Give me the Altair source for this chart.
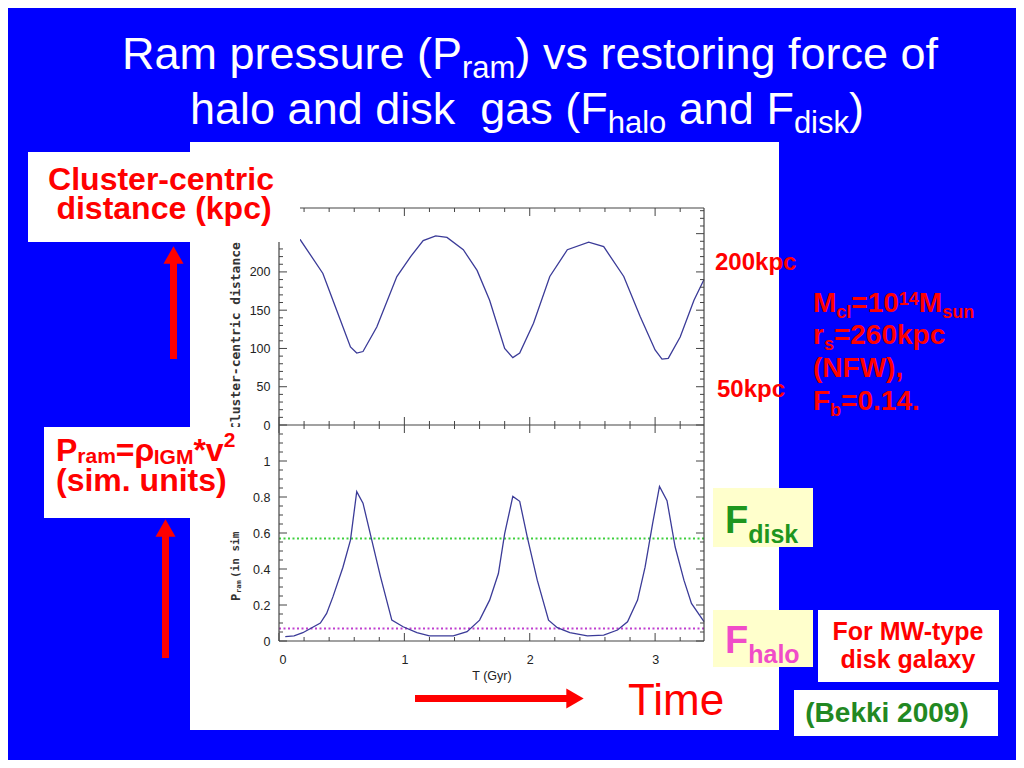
import altair as alt
import pandas as pd

# ------------------------------------------------------------------ data
# top panel: cluster-centric distance (kpc) vs T (Gyr)
t_dist = [0.05, 0.10, 0.17, 0.35, 0.46, 0.57, 0.62, 0.67, 0.78, 0.94,
          1.05, 1.15, 1.25, 1.34, 1.47, 1.58, 1.68, 1.80, 1.865, 1.92,
          2.03, 2.16, 2.30, 2.47, 2.59, 2.75, 2.88, 3.00, 3.055, 3.105,
          3.20, 3.31, 3.39]
dist_kpc = [249, 247, 242, 198, 150, 102, 94, 96, 128, 194,
            220, 241, 247, 245, 229, 202, 163, 100, 88, 94,
            133, 194, 229, 239, 233, 194, 142, 98, 86, 87,
            115, 163, 190]

# bottom panel: P_ram (sim. units) vs T (Gyr)
t_pram = [0.05, 0.12, 0.19, 0.33, 0.38, 0.43, 0.51, 0.57, 0.62, 0.67,
          0.74, 0.81, 0.90, 0.99, 1.10, 1.20, 1.39, 1.50, 1.60, 1.68,
          1.75, 1.80, 1.865, 1.92, 1.98, 2.06, 2.15, 2.22, 2.32, 2.46,
          2.59, 2.70, 2.78, 2.86, 2.92, 2.98, 3.035, 3.095, 3.16, 3.23,
          3.29, 3.39]
p_ram = [0.024, 0.028, 0.046, 0.10, 0.153, 0.245, 0.41, 0.56, 0.83, 0.766,
         0.56, 0.356, 0.116, 0.079, 0.046, 0.028, 0.028, 0.052, 0.116, 0.227,
         0.375, 0.597, 0.803, 0.776, 0.578, 0.338, 0.116, 0.074, 0.046, 0.028,
         0.033, 0.061, 0.107, 0.227, 0.41, 0.652, 0.859, 0.78, 0.522, 0.338,
         0.209, 0.107]

f_disk_level = [0.57]
f_halo_level = [0.07]

# axis ticks / labels
x_labels = [0, 1, 2, 3]
x_major = [0, 1, 2, 3]
x_minor = [0.2, 0.4, 0.6, 0.8, 1.2, 1.4, 1.6, 1.8, 2.2, 2.4, 2.6, 2.8, 3.2]
dist_labels = [0, 50, 100, 150, 200]
dist_major = [0, 50, 100, 150, 200, 250]
dist_minor = [10, 20, 30, 40, 60, 70, 80, 90, 110, 120, 130, 140, 160, 170,
              180, 190, 210, 220, 230, 240, 260, 270, 280]
p_labels = [0, 0.2, 0.4, 0.6, 0.8, 1.0]
p_major = [0, 0.2, 0.4, 0.6, 0.8, 1.0]
p_minor = [0.05, 0.1, 0.15, 0.25, 0.3, 0.35, 0.45, 0.5, 0.55, 0.65, 0.7,
           0.75, 0.85, 0.9, 0.95, 1.05, 1.1, 1.15]

# ------------------------------------------------------------------ layout
PX0, PY0 = 279, 208          # page position of the plot frame
W, H, YMID = 425, 433, 217   # frame size and panel split (plot coords)

SANS = "Liberation Sans, Arial, Helvetica, sans-serif"
MONO = "DejaVu Sans Mono, monospace"
RED = "#ff0000"
WHITE = "#ffffff"
BLUE = "#0000ff"
LINE = "#3b3b98"
FRAME = "#444444"

REG = {' ': 278, '\u00a0': 278, '(': 333, ')': 333, '-': 333, '.': 278, ',': 278,
       '=': 584, '*': 389, 'F': 611, 'P': 667, 'R': 722, 'T': 611, 'M': 833,
       'W': 944, 'N': 722, 'a': 556, 'c': 500, 'd': 556, 'e': 556, 'f': 278,
       'g': 556, 'h': 556, 'i': 222, 'k': 500, 'l': 222, 'm': 833, 'n': 556,
       'o': 556, 'p': 556, 'r': 333, 's': 500, 't': 278, 'u': 556, 'v': 500,
       'y': 500}
BOLD = {' ': 278, '\u00a0': 278, '(': 333, ')': 333, '-': 333, '.': 278, ',': 278,
        '=': 584, '*': 389, 'B': 722, 'C': 722, 'F': 611, 'G': 778, 'I': 278,
        'M': 833, 'N': 722, 'P': 667, 'W': 944, 'a': 556, 'b': 611, 'c': 556,
        'd': 611, 'e': 556, 'g': 611, 'i': 278, 'k': 556, 'l': 278, 'm': 889,
        'n': 611, 'o': 611, 'p': 611, 'r': 389, 's': 556, 't': 333, 'u': 611,
        'v': 556, 'x': 556, 'y': 556, '\u03c1': 600}


def tw(s, size, bold):
    tab = BOLD if bold else REG
    return sum(tab.get(c, 556) for c in s) * size / 1000.0


one = pd.DataFrame({"k": [0]})


def vx(px):
    return alt.value(px - PX0)


def vy(py):
    return alt.value(py - PY0)


def box(x1, y1, x2, y2, color):
    return alt.Chart(one).mark_rect(color=color, opacity=1).encode(
        x=vx(x1), x2=vx(x2), y=vy(y1), y2=vy(y2))


def rule_px(x1, y1, x2, y2, color, width):
    return alt.Chart(one).mark_rule(color=color, strokeWidth=width).encode(
        x=alt.value(x1), x2=alt.value(x2), y=alt.value(y1), y2=alt.value(y2))


def text(s, px, py, size, color, bold=False, font=SANS, align="left",
         baseline="alphabetic", angle=None):
    kw = dict(text=s, fontSize=size, color=color, font=font, align=align,
              baseline=baseline, fontWeight="bold" if bold else "normal")
    if angle is not None:
        kw["angle"] = angle
    return alt.Chart(one).mark_text(**kw).encode(x=vx(px), y=vy(py))


def runs(parts, py, color, x=None, center=None):
    """parts: (string, size, bold, dy) laid out left to right."""
    widths = [tw(s, sz, b) for s, sz, b, _ in parts]
    cur = x if x is not None else center - sum(widths) / 2.0
    out = []
    for (s, sz, b, dy), w in zip(parts, widths):
        lead = len(s) - len(s.lstrip(' '))
        body = s.strip(' ')
        if body:
            out.append(text(body, cur + tw(' ' * lead, sz, b), py + dy, sz, color, b))
        cur += w
    return out


xs = alt.Scale(domain=[0, 3.39], nice=False, zero=False)
ys_top = alt.Scale(domain=[0, 283.5], range=[YMID, 0], nice=False, zero=False)
ys_bot = alt.Scale(domain=[0, 1.2], range=[H, YMID], nice=False, zero=False)


def xticks(vals, y0, length):
    df = pd.DataFrame({"v": vals})
    return alt.Chart(df).mark_rule(color=FRAME, strokeWidth=1).encode(
        x=alt.X("v:Q", scale=xs, axis=None),
        y=alt.value(y0), y2=alt.value(y0 + length))


def yticks(vals, scale, x0, length):
    df = pd.DataFrame({"v": vals})
    return alt.Chart(df).mark_rule(color=FRAME, strokeWidth=1).encode(
        y=alt.Y("v:Q", scale=scale, axis=None),
        x=alt.value(x0), x2=alt.value(x0 + length))


layers = []

# white picture area
layers.append(box(190, 142, 779, 730, WHITE))

# restoring-force levels (dotted)
layers.append(alt.Chart(pd.DataFrame({"f": f_disk_level})).mark_rule(
    color="#3fcf3f", strokeWidth=2, strokeDash=[2, 2.5]).encode(
    y=alt.Y("f:Q", scale=ys_bot, axis=None), x=alt.value(0), x2=alt.value(W)))
layers.append(alt.Chart(pd.DataFrame({"f": f_halo_level})).mark_rule(
    color="#c040d0", strokeWidth=2, strokeDash=[2, 2.5]).encode(
    y=alt.Y("f:Q", scale=ys_bot, axis=None), x=alt.value(0), x2=alt.value(W)))

ax_lab = dict(ticks=False, domain=False, grid=False, labelFont=SANS,
              labelFontSize=12.5, labelColor="#222222", zindex=1)

# top panel curve
df_top = pd.DataFrame({"T": t_dist, "d": dist_kpc})
layers.append(alt.Chart(df_top).mark_line(color=LINE, strokeWidth=1.3).encode(
    x=alt.X("T:Q", scale=xs, axis=None),
    y=alt.Y("d:Q", scale=ys_top,
            axis=alt.Axis(orient="left", values=dist_labels, title=None,
                          labelPadding=9, **ax_lab))))

# bottom panel curve
df_bot = pd.DataFrame({"T": t_pram, "P": p_ram})
layers.append(alt.Chart(df_bot).mark_line(color=LINE, strokeWidth=1.3).encode(
    x=alt.X("T:Q", scale=xs,
            axis=alt.Axis(orient="bottom", values=x_labels, format="d",
                          labelPadding=12, title="T (Gyr)", titleFont=SANS,
                          titleFontSize=12.5, titleFontWeight="normal",
                          titleColor="#222222", titlePadding=4, **ax_lab)),
    y=alt.Y("P:Q", scale=ys_bot,
            axis=alt.Axis(orient="left", values=p_labels, format="~g",
                          title=None, labelPadding=9, **ax_lab))))

# frames
layers.append(rule_px(0, 0, W, 0, FRAME, 1.2))
layers.append(rule_px(0, YMID, W, YMID, FRAME, 1.2))
layers.append(rule_px(0, H, W, H, FRAME, 1.2))
layers.append(rule_px(0, 0, 0, H, FRAME, 1.2))
layers.append(rule_px(W, 0, W, H, FRAME, 1.2))

# inward ticks
for y0, sgn in [(0, 1), (YMID, -1), (YMID, 1), (H, -1)]:
    layers.append(xticks(x_major, y0, 8 * sgn))
    layers.append(xticks(x_minor, y0, 4 * sgn))
for vals_maj, vals_min, sc in [(dist_major, dist_minor, ys_top),
                               (p_major, p_minor, ys_bot)]:
    layers.append(yticks(vals_maj, sc, 0, 8))
    layers.append(yticks(vals_min, sc, 0, 4))
    layers.append(yticks(vals_maj, sc, W, -8))
    layers.append(yticks(vals_min, sc, W, -4))

# axis titles of the original figure (rotated)
layers.append(text("Cluster-centric distance", 236, 336, 13, "#333333", True,
                   font=MONO, align="center", baseline="middle", angle=270))
layers.append(text("P", 236, 601, 12, "#333333", True, font=MONO,
                   baseline="middle", angle=270))
layers.append(text("ram", 239, 593, 7, "#333333", True, font=MONO,
                   baseline="middle", angle=270))
layers.append(text("(in sim", 236, 578, 11, "#333333", True, font=MONO,
                   baseline="middle", angle=270))

# overlay boxes
layers.append(box(28, 152, 300, 242, WHITE))
layers.append(box(44, 427, 251, 518, WHITE))
layers.append(box(713, 488, 813, 547, "#ffffcc"))
layers.append(box(713, 610, 813, 667, "#ffffcc"))
layers.append(box(818, 610, 999, 682, WHITE))
layers.append(box(794, 690, 998, 736, WHITE))

# title
layers += runs([("Ram pressure (P", 45, False, 0), ("ram", 31, False, 9),
                (") vs restoring force of", 45, False, 0)], 69, WHITE, center=530)
layers += runs([("halo and disk\u00a0 gas (F", 45, False, 0), ("halo", 31, False, 9),
                (" and F", 45, False, 0), ("disk", 31, False, 9),
                (")", 45, False, 0)], 124, WHITE, center=527)

# left annotations
layers.append(text("Cluster-centric", 161, 190, 32, RED, True, align="center"))
layers.append(text("distance (kpc)", 164, 219, 32, RED, True, align="center"))
layers += runs([("P", 32, True, 0), ("ram", 21, True, 2), ("=", 32, True, 0),
                ("\u03c1", 32, True, 0), ("IGM", 21, True, 3), ("*v", 32, True, 0),
                ("2", 21, True, -14)], 461, RED, x=56)
layers.append(text("(sim. units)", 56, 491, 32, RED, True))

# right annotations
layers.append(text("200kpc", 715, 270, 24, RED, True))
layers.append(text("50kpc", 717, 397, 24, RED, True))
layers += runs([("M", 28, True, 0), ("cl", 18, True, 6), ("=10", 28, True, 0),
                ("14", 18, True, -7), ("M", 28, True, 0), ("sun", 18, True, 6)],
               312, RED, x=813)
layers += runs([("r", 28, True, 0), ("s", 18, True, 6), ("=260kpc", 28, True, 0)],
               344, RED, x=813)
layers.append(text("(NFW),", 813, 377, 28, RED, True))
layers += runs([("F", 28, True, 0), ("b", 18, True, 6), ("=0.14.", 28, True, 0)],
               410, RED, x=813)

layers += runs([("F", 38, True, 0), ("disk", 25, True, 10)], 533, "#1e961e", x=725)
layers += runs([("F", 38, True, 0), ("halo", 25, True, 10)], 653, "#f04cc8", x=725)

layers.append(text("For MW-type", 908, 640, 25, RED, True, align="center"))
layers.append(text("disk galaxy", 908, 668, 25, RED, True, align="center"))
layers.append(text("(Bekki 2009)", 887, 722, 28, "#228822", True, align="center"))
layers.append(text("Time", 628, 715, 44, RED))

# arrows
layers.append(box(170, 263, 177, 359, RED))
layers.append(alt.Chart(one).mark_point(shape="triangle-up", size=400, filled=True,
                                        color=RED, opacity=1, strokeWidth=0).encode(
    x=vx(173.5), y=vy(255)))
layers.append(box(162, 536, 169, 658, RED))
layers.append(alt.Chart(one).mark_point(shape="triangle-up", size=400, filled=True,
                                        color=RED, opacity=1, strokeWidth=0).encode(
    x=vx(165.5), y=vy(528)))
layers.append(box(415, 695, 567, 702, RED))
layers.append(alt.Chart(one).mark_point(shape="triangle-right", size=400, filled=True,
                                        color=RED, opacity=1, strokeWidth=0).encode(
    x=vx(575), y=vy(698.5)))

chart = alt.layer(*layers).resolve_scale(
    x="independent", y="independent"
).properties(
    width=W, height=H,
    autosize=alt.AutoSizeParams(type="none"),
    padding={"left": PX0 - 8, "top": PY0 - 8,
             "right": 1008 - (PX0 - 8) - W, "bottom": 752 - (PY0 - 8) - H},
    background=BLUE,
).configure_view(strokeWidth=0)

chart.save("out.html", embed_options={"renderer": "svg", "actions": False})
